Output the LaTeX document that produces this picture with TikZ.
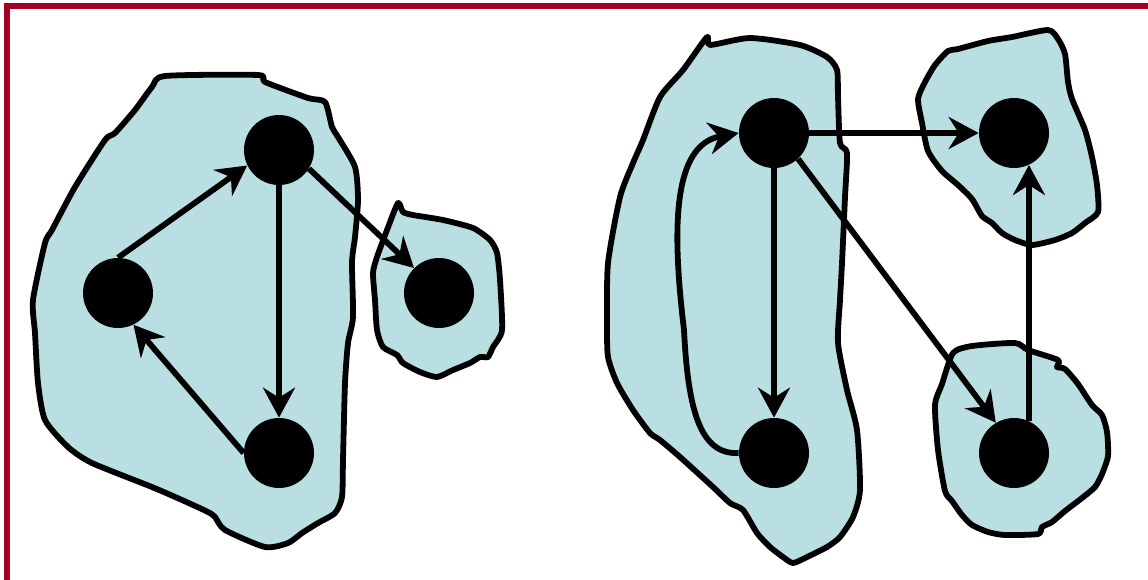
\documentclass[tikz,border=0pt]{standalone}
\usepackage{tikz}
\usetikzlibrary{arrows.meta}
\definecolor{blobfill}{RGB}{186,223,227}
\definecolor{framered}{RGB}{165,0,33}

\begin{document}
\begin{tikzpicture}[x=0.02cm, y=-0.02cm,
  blob/.style={draw=black, fill=blobfill, line width=3.3pt, line join=round},
  vertex/.style={circle, fill=black, minimum size=1.4cm, inner sep=0pt},
  edge/.style={line width=3.3pt, -{Stealth[length=0.6cm, width=0.64cm, inset=0.2cm]}}]
  \useasboundingbox (0,0) rectangle (1148,579);
  \clip (0,0) rectangle (1148,579);
  \draw[framered, line width=0.13cm] (7,620) -- (7,6) -- (1180,6);

  % the components
  \draw[blob] plot[smooth cycle, tension=0.4] coordinates {
    (165,76) (258,75) (265,82) (308,98) (325,102) (332,127) (338,137) (355,167)
    (358,200) (355,237) (352,262) (353,317) (348,343) (345,383) (343,460) (342,497)
    (335,513) (318,523) (302,533) (288,543) (265,547) (225,530) (215,517) (208,512)
    (182,500) (152,487) (92,463) (68,447) (45,420) (38,383) (35,333) (33,300)
    (45,243) (52,230) (75,187) (105,140) (115,133) (135,110) (152,87)};
  \draw[blob] plot[smooth cycle, tension=0.4] coordinates {
    (398,203) (403,212) (413,215) (443,220) (473,228) (490,240) (497,253) (500,280)
    (502,330) (493,347) (488,357) (480,357) (470,363) (453,370) (437,377) (420,372)
    (403,363) (397,355) (383,347) (377,330) (375,300) (373,273) (377,257) (387,230)};
  \draw[blob] plot[smooth cycle, tension=0.4] coordinates {
    (707,37) (710,45) (750,38) (800,45) (827,57) (837,70) (838,97) (840,143)
    (847,153) (845,197) (842,263) (840,300) (838,343) (847,390) (857,430) (860,490)
    (853,517) (840,537) (827,547) (807,557) (793,563) (783,557) (770,547) (757,533)
    (743,510) (730,503) (713,487) (680,457) (660,440) (650,433) (633,410) (617,383)
    (608,357) (607,323) (608,263) (620,197) (633,163) (643,140) (660,97) (683,70)};
  \draw[blob] plot[smooth cycle, tension=0.4] coordinates {
    (948,51) (958,49) (988,41) (1012,37) (1048,30) (1058,39) (1065,54) (1068,82)
    (1072,99) (1085,130) (1092,157) (1097,185) (1098,212) (1085,223) (1072,233) (1055,240)
    (1032,245) (1015,240) (1002,233) (992,223) (982,216) (972,199) (958,185) (942,171)
    (928,151) (922,123) (918,99) (925,82) (935,65)};
  \draw[blob] plot[smooth cycle, tension=0.4] coordinates {
    (953,353) (972,346) (1015,343) (1028,350) (1058,360) (1057,367) (1065,369) (1078,384)
    (1092,405) (1102,415) (1107,432) (1108,456) (1102,474) (1095,487) (1082,498) (1065,511)
    (1052,522) (1042,527) (1038,534) (1005,535) (988,532) (972,525) (962,515) (952,501)
    (945,491) (938,450) (935,405) (942,384)};

  % vertices
  \foreach \n/\x/\y in {a/279/150, b/118/293, c/279/453, d/439/293,
                        e/774/133, f/1014/133, g/774/453, h/1014/453}{
    \node[vertex] (\n) at (\x,\y) {};
  }

  % arcs
  \foreach \s/\t in {b.north/a.206, a.south/c.north, c.west/b.-64, a.-32/d.135,
                     e.east/f.west, e.south/g.north, e.-47/h.121, h.65/f.-65}{
    \draw[edge] (\s) -- (\t);
  }
  \draw[edge] (g.west) .. controls (700,455) and (688,410) .. (684,330)
    .. controls (672,230) and (672,145) .. (e.west);
\end{tikzpicture}
\end{document}
